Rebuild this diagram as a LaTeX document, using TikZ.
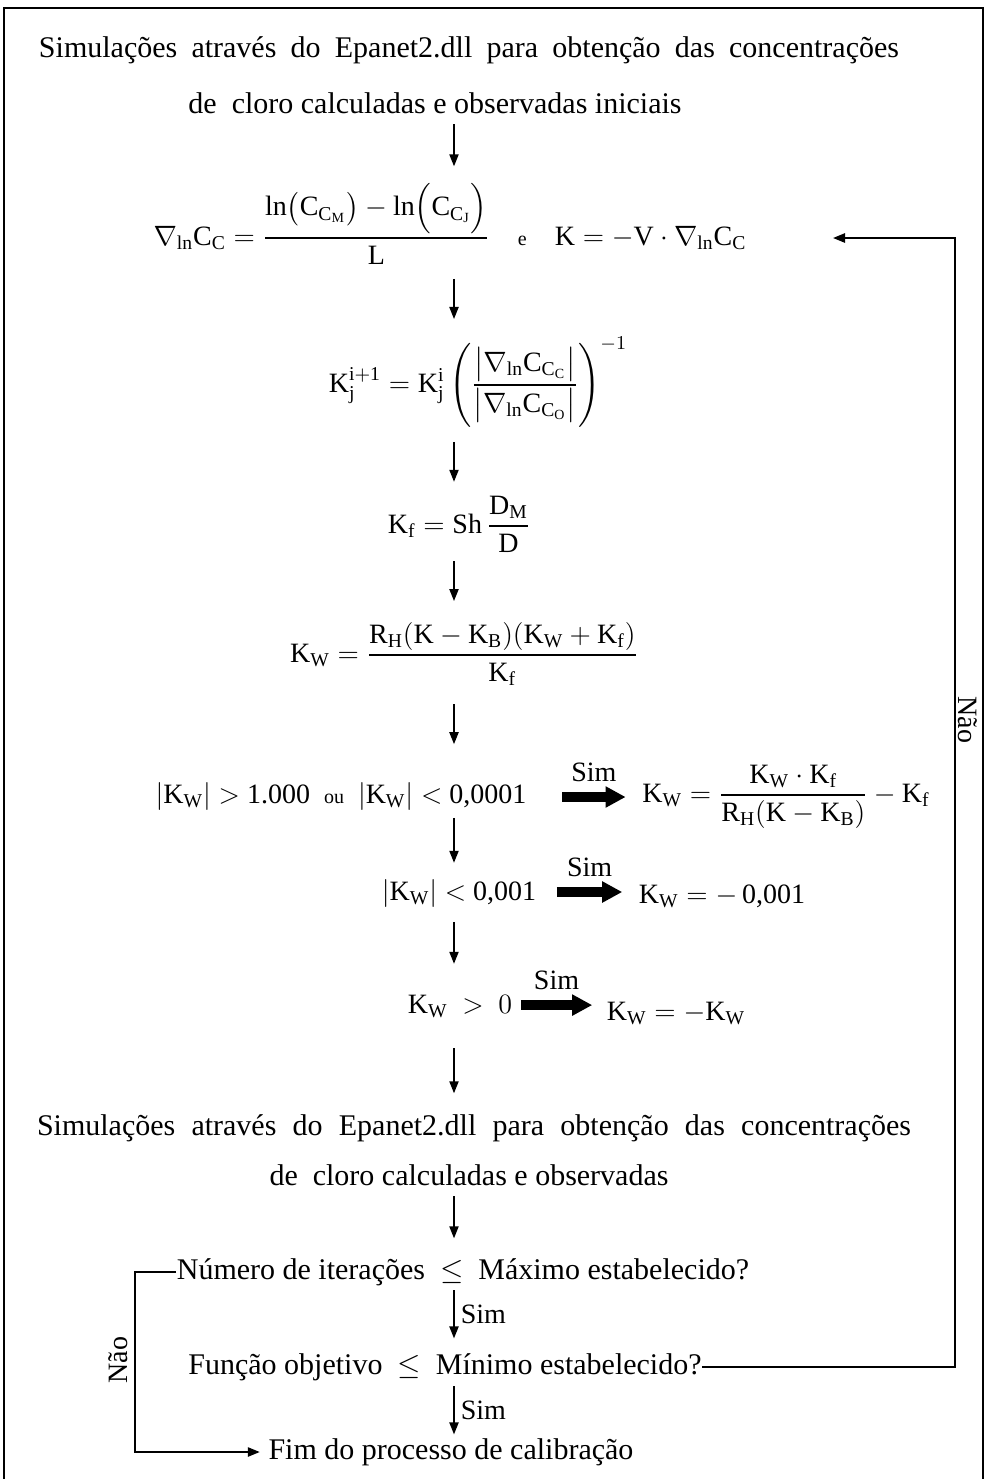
\RequirePackage{fix-cm}
\documentclass[tikz,border=0pt]{standalone}
\usepackage{amsmath,amssymb}
\usepackage{fontspec}
\setmainfont{Liberation Serif}
\usetikzlibrary{arrows.meta,positioning,calc}
\tikzset{
  calib/.style={
    >={Triangle[length=6pt,width=4.6pt]},
    line width=0.75pt
  },
  txt/.style={                   % plain text lines
    inner sep=0pt,
    font=\fontsize{15}{17}\selectfont
  },
  eqn/.style={                   % formula rows
    inner sep=0pt, anchor=base,
    font=\fontsize{14}{16}\selectfont
  },
  lbl/.style={inner sep=1pt, font=\fontsize{14}{16}\selectfont},
  down/.style={->, line width=0.75pt},
  fat/.style={-{Triangle[length=10pt,width=10pt]}, line width=5pt},
  back/.style={->, line width=1pt},
  frame/.style={line width=1.4pt}
}

\begin{document}
\begin{tikzpicture}[calib, x=0.5pt, y=-0.5pt]
\useasboundingbox (0,0) rectangle (987,1479);
\draw[frame] (4,1500) -- (4,8) -- (983,8) -- (983,1500);

% Initial simulation
\node[txt] (simA) at (469,50) {\makebox[430pt][s]{Simulações através do Epanet2.dll para obtenção das concentrações}};
\node[txt] (simB) at (435,103) {de\ \ cloro calculadas e observadas iniciais};

% Gradient and decay coefficient
\node[eqn] (grad) at (450,245) {$\nabla_{\mathrm{ln}}\mathrm{C_C} = \dfrac{\ln\bigl(\mathrm{C}_{\mathrm{C_M}}\bigr) - \ln\Bigl(\mathrm{C}_{\mathrm{C_J}}\Bigr)}{\mathrm{L}}$\quad{\fontsize{10}{11}\selectfont e}\quad$\mathrm{K} = -\mathrm{V}\cdot\nabla_{\mathrm{ln}}\mathrm{C_C}$};
\node[eqn] (kj) at (478,392) {$\mathrm{K}_{\mathrm{j}}^{\mathrm{i+1}} = \mathrm{K}_{\mathrm{j}}^{\mathrm{i}}\left(\dfrac{\bigl|\nabla_{\mathrm{ln}}\mathrm{C}_{\mathrm{C_C}}\bigr|}{\bigl|\nabla_{\mathrm{ln}}\mathrm{C}_{\mathrm{C_O}}\bigr|}\right)^{-1}$};
\node[eqn] (kf) at (459,533) {$\mathrm{K_f} = \mathrm{Sh}\,\dfrac{\mathrm{D_M}}{\mathrm{D}}$};
\node[eqn] (kw) at (464,662) {$\mathrm{K_W} = \dfrac{\mathrm{R_H}(\mathrm{K}-\mathrm{K_B})(\mathrm{K_W}+\mathrm{K_f})}{\mathrm{K_f}}$};

% Tests on K_W
\node[eqn] (condA) at (341,803) {$|\mathrm{K_W}|>$ 1.000\ \ {\fontsize{10}{11}\selectfont ou}\ \ $|\mathrm{K_W}|<$\ 0,0001};
\node[eqn] (resA) at (786,802) {$\mathrm{K_W} = \dfrac{\mathrm{K_W}\cdot\mathrm{K_f}}{\mathrm{R_H}(\mathrm{K}-\mathrm{K_B})} - \mathrm{K_f}$};
\node[eqn] (condB) at (459,900) {$|\mathrm{K_W}|<$\ 0,001};
\node[eqn] (resB) at (722,903) {$\mathrm{K_W} = -\,$0,001};
\node[eqn] (condC) at (460,1013) {$\mathrm{K_W}\ >\ 0$};
\node[eqn] (resC) at (676,1020) {$\mathrm{K_W} = -\mathrm{K_W}$};

% Second simulation
\node[txt] (simC) at (474,1128) {\makebox[437pt][s]{Simulações através do Epanet2.dll para obtenção das concentrações}};
\node[txt] (simD) at (469,1175) {de\ \ cloro calculadas e observadas};

% Stop criteria
\node[txt] (iter) at (463,1272) {Número de iterações\ \ $\leq$\ \ Máximo estabelecido?};
\node[txt] (fobj) at (445,1367) {Função objetivo\ \ $\leq$\ \ Mínimo estabelecido?};
\node[txt] (fim) at (451,1452) {Fim do processo de calibração};

% Main column
\coordinate (col) at (454,0);
\draw[down] (simB.south -| col) ++(0,10) -- ++(0,42);
\draw[down] (grad.south -| col) ++(0,14) -- ++(0,40);
\draw[down] (kj.south -| col) ++(0,14) -- ++(0,40);
\draw[down] (kf.south -| col) ++(0,8) -- ++(0,40);
\draw[down] (kw.south -| col) ++(0,18) -- ++(0,40);
\draw[down] (condA.south -| col) ++(0,7) -- ++(0,45);
\draw[down] (condB.south -| col) ++(0,14) -- ++(0,42);
\draw[down] (condC.south -| col) ++(0,30) -- ++(0,45);
\draw[down] (simD.south -| col) ++(0,10) -- ++(0,42);
\draw[down] (iter.south -| col) ++(0,4) -- ++(0,48) node[midway, right=2pt, lbl] {Sim};
\draw[down] (fobj.south -| col) ++(0,5) -- ++(0,48) node[midway, right=2pt, lbl] {Sim};

% Sim branches
\draw[fat] ($(condA.east)+(35,1)$) -- ($(condA.east -| resA.west)+(-16,1)$) node[midway, above=4pt, lbl] {Sim};
\draw[fat] ($(condB.east)+(20,-1)$) -- ($(condB.east -| resB.west)+(-16,-1)$) node[midway, above=4pt, lbl] {Sim};
\draw[fat] ($(condC.east)+(8,-1)$) -- ($(condC.east -| resC.west)+(-14,-1)$) node[midway, above=4pt, lbl] {Sim};

% Loops
\coordinate (rtop) at (955,238);
\coordinate (gradin) at (833,238);
\draw[back] (fobj.east) -| (rtop) -- (gradin);
\node[lbl, rotate=-90] (naoR) at (968,720) {Não};
\coordinate (lbot) at (135,1452);
\draw[back, shorten >=4pt] (iter.west) -| (lbot) -- (fim.west);
\node[lbl, rotate=90] (naoL) at (118,1360) {Não};
\end{tikzpicture}
\end{document}
